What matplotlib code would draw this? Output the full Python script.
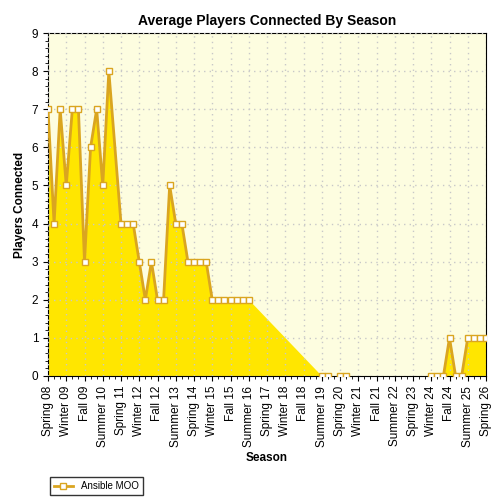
import numpy as np
import matplotlib
matplotlib.use("Agg")
import matplotlib.pyplot as plt

seasons = []
names = ["Spring", "Summer", "Fall", "Winter"]
for yr in range(8, 27):
    for i, n in enumerate(names):
        y = yr + 1 if n == "Winter" else yr
        seasons.append(f"{n} {y:02d}")
seasons = seasons[:73]
nan = np.nan
values = [7, 4, 7, 5, 7, 7, 3, 6, 7, 5, 8, nan, 4, 4, 4, 3, 2, 3, 2, 2,
          5, 4, 4, 3, 3, 3, 3, 2, 2, 2, 2, 2, 2, 2,
          nan, nan, nan, nan, nan, nan, nan, nan, nan, nan, nan,
          0, 0, nan, 0, 0, nan, nan, nan, nan, nan, nan, nan, nan, nan, nan, nan, nan, nan,
          0, 0, 0, 1, 0, 0, 1, 1, 1, 1]

x = np.arange(len(values))
v = np.array(values, dtype=float)
m = ~np.isnan(v)
filled = np.interp(x, x[m], v[m])
line = v.copy()
line[11] = filled[11]

fig = plt.figure(figsize=(5, 5), dpi=100)
fig.patch.set_facecolor("white")
ax = fig.add_axes([0.096, 0.248, 0.876, 0.686])
ax.imshow(np.ones((10, 10)), extent=[-0.5, 72.5, 0, 9], aspect="auto", cmap=matplotlib.colors.LinearSegmentedColormap.from_list("b", ["#fdfde0", "#fffff0"]), zorder=0)
ax.fill_between(x, filled, 0, color="#ffe600", zorder=2, linewidth=0)
ax.plot(x, line, color="#daa520", lw=2, zorder=3)
ax.plot(x[m], v[m], color="#daa520", lw=0, marker="s", ms=5, mfc="white", mec="#daa520", mew=1, zorder=4)
ax.plot([], [], color="#daa520", lw=2, marker="s", ms=5, mfc="white", mec="#daa520", label="Ansible MOO")
ax.set_xlim(0, 72)
ax.set_ylim(0, 9)
ax.set_yticks(range(10))
ax.set_yticks(np.arange(0, 9, 0.2), minor=True)
ax.set_xticks(x[::3])
ax.set_xticks(x, minor=True)
ax.set_xticklabels([seasons[i] for i in x[::3]], rotation=90, fontsize=8.5, family="Liberation Sans")
ax.tick_params(axis="y", labelsize=8.5)
for t in ax.get_yticklabels():
    t.set_family("Liberation Sans")
ax.grid(True, which="major", color="#c8c8c8", linestyle=(0, (1, 3)), lw=1)
ax.set_axisbelow(False)
ax.set_title("Average Players Connected By Season", fontsize=10, fontweight="bold", family="Liberation Sans")
ax.set_xlabel("Season", fontsize=8.5, fontweight="bold", family="Liberation Sans")
ax.set_ylabel("Players Connected", fontsize=8.5, fontweight="bold", family="Liberation Sans")
fig.legend(loc="lower left", bbox_to_anchor=(0.09, 0.0), frameon=True, fancybox=False, edgecolor="black", prop={"family": "Liberation Sans", "size": 7})
fig.savefig("out.png", dpi=100)
